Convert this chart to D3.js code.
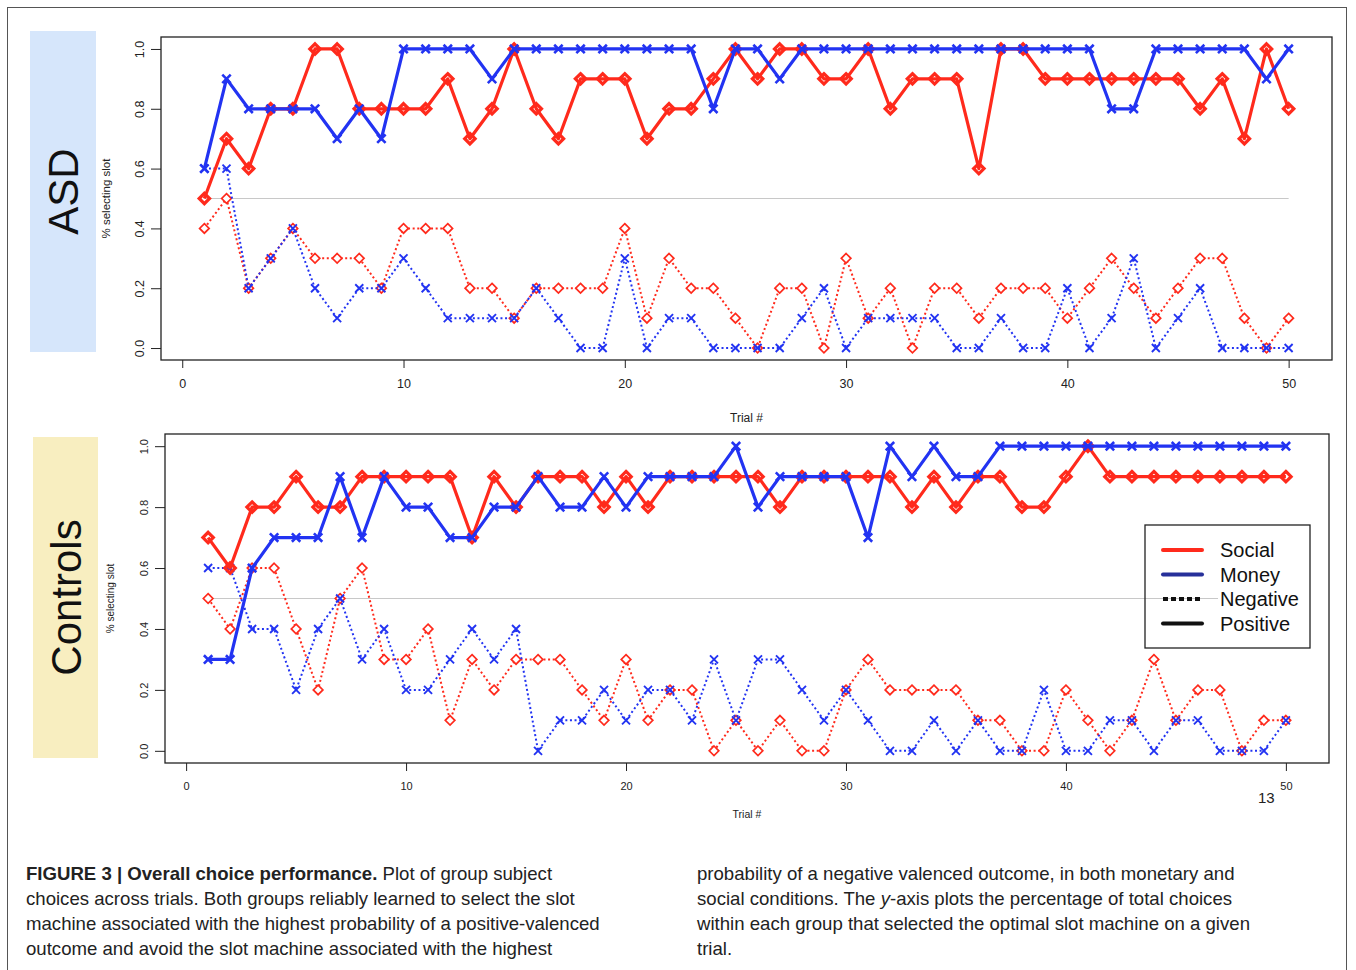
<!DOCTYPE html>
<html>
<head>
<meta charset="utf-8">
<script src="https://cdn.jsdelivr.net/npm/d3@7"></script>
<style>
body { margin: 0; background: #fff; }
svg { display: block; }
text { font-family: "Liberation Sans", Arial, Helvetica, sans-serif; }
</style>
</head>
<body>
<svg id="chart" width="1356" height="970"></svg>
<script>
// trial numbers
var trials = d3.range(1, 51);

// ASD group
var asdSocialPos = [0.5,0.7,0.6,0.8,0.8,1.0,1.0,0.8,0.8,0.8, 0.8,0.9,0.7,0.8,1.0,0.8,0.7,0.9,0.9,0.9,
                    0.7,0.8,0.8,0.9,1.0,0.9,1.0,1.0,0.9,0.9, 1.0,0.8,0.9,0.9,0.9,0.6,1.0,1.0,0.9,0.9,
                    0.9,0.9,0.9,0.9,0.9,0.8,0.9,0.7,1.0,0.8];
var asdMoneyPos  = [0.6,0.9,0.8,0.8,0.8,0.8,0.7,0.8,0.7,1.0, 1.0,1.0,1.0,0.9,1.0,1.0,1.0,1.0,1.0,1.0,
                    1.0,1.0,1.0,0.8,1.0,1.0,0.9,1.0,1.0,1.0, 1.0,1.0,1.0,1.0,1.0,1.0,1.0,1.0,1.0,1.0,
                    1.0,0.8,0.8,1.0,1.0,1.0,1.0,1.0,0.9,1.0];
var asdSocialNeg = [0.4,0.5,0.2,0.3,0.4,0.3,0.3,0.3,0.2,0.4, 0.4,0.4,0.2,0.2,0.1,0.2,0.2,0.2,0.2,0.4,
                    0.1,0.3,0.2,0.2,0.1,0.0,0.2,0.2,0.0,0.3, 0.1,0.2,0.0,0.2,0.2,0.1,0.2,0.2,0.2,0.1,
                    0.2,0.3,0.2,0.1,0.2,0.3,0.3,0.1,0.0,0.1];
var asdMoneyNeg  = [0.6,0.6,0.2,0.3,0.4,0.2,0.1,0.2,0.2,0.3, 0.2,0.1,0.1,0.1,0.1,0.2,0.1,0.0,0.0,0.3,
                    0.0,0.1,0.1,0.0,0.0,0.0,0.0,0.1,0.2,0.0, 0.1,0.1,0.1,0.1,0.0,0.0,0.1,0.0,0.0,0.2,
                    0.0,0.1,0.3,0.0,0.1,0.2,0.0,0.0,0.0,0.0];

// Control group
var ctlSocialPos = [0.7,0.6,0.8,0.8,0.9,0.8,0.8,0.9,0.9,0.9, 0.9,0.9,0.7,0.9,0.8,0.9,0.9,0.9,0.8,0.9,
                    0.8,0.9,0.9,0.9,0.9,0.9,0.8,0.9,0.9,0.9, 0.9,0.9,0.8,0.9,0.8,0.9,0.9,0.8,0.8,0.9,
                    1.0,0.9,0.9,0.9,0.9,0.9,0.9,0.9,0.9,0.9];
var ctlMoneyPos  = [0.3,0.3,0.6,0.7,0.7,0.7,0.9,0.7,0.9,0.8, 0.8,0.7,0.7,0.8,0.8,0.9,0.8,0.8,0.9,0.8,
                    0.9,0.9,0.9,0.9,1.0,0.8,0.9,0.9,0.9,0.9, 0.7,1.0,0.9,1.0,0.9,0.9,1.0,1.0,1.0,1.0,
                    1.0,1.0,1.0,1.0,1.0,1.0,1.0,1.0,1.0,1.0];
var ctlSocialNeg = [0.5,0.4,0.6,0.6,0.4,0.2,0.5,0.6,0.3,0.3, 0.4,0.1,0.3,0.2,0.3,0.3,0.3,0.2,0.1,0.3,
                    0.1,0.2,0.2,0.0,0.1,0.0,0.1,0.0,0.0,0.2, 0.3,0.2,0.2,0.2,0.2,0.1,0.1,0.0,0.0,0.2,
                    0.1,0.0,0.1,0.3,0.1,0.2,0.2,0.0,0.1,0.1];
var ctlMoneyNeg  = [0.6,0.6,0.4,0.4,0.2,0.4,0.5,0.3,0.4,0.2, 0.2,0.3,0.4,0.3,0.4,0.0,0.1,0.1,0.2,0.1,
                    0.2,0.2,0.1,0.3,0.1,0.3,0.3,0.2,0.1,0.2, 0.1,0.0,0.0,0.1,0.0,0.1,0.0,0.0,0.2,0.0,
                    0.0,0.1,0.1,0.0,0.1,0.1,0.0,0.0,0.0,0.1];

var xTicks = [0, 10, 20, 30, 40, 50];
var yTicks = [0, 0.2, 0.4, 0.6, 0.8, 1.0];
var chanceLevel = 0.5;

var legendLabels = ['Social', 'Money', 'Negative', 'Positive'];

var captionLeft = [
    'choices across trials. Both groups reliably learned to select the slot',
    'machine associated with the highest probability of a positive-valenced',
    'outcome and avoid the slot machine associated with the highest'
];
var captionRight = [
    'probability of a negative valenced outcome, in both monetary and',
    'social conditions. The |y|-axis plots the percentage of total choices',
    'within each group that selected the optimal slot machine on a given',
    'trial.'
];

var RED = '#ff2a1c';
var BLUE = '#2233f2';

var svg = d3.select('#chart');

// figure frame
svg.append('rect')
    .attr('x', 7.5).attr('y', 7.5)
    .attr('width', 1339).attr('height', 990)
    .attr('fill', 'none').attr('stroke', '#555').attr('stroke-width', 1);

var panels = [
    {
        label: 'ASD', band: '#d6e6fb', bandX: 30, bandY: 31, bandW: 66, bandH: 321, labelSize: 42,
        left: 161, right: 1332, top: 37, bottom: 360,
        tickFont: 12.5, titleY: 422, ticklabY: 388,
        series: [asdSocialNeg, asdMoneyNeg, asdSocialPos, asdMoneyPos]
    },
    {
        label: 'Controls', band: '#f8eec0', bandX: 33, bandY: 437, bandW: 65, bandH: 321, labelSize: 42,
        left: 165, right: 1329, top: 434, bottom: 763,
        tickFont: 11, titleY: 818, ticklabY: 790,
        series: [ctlSocialNeg, ctlMoneyNeg, ctlSocialPos, ctlMoneyPos]
    }
];

var seriesStyle = [
    { color: RED,  shape: 'diamond', dash: '2,2.6', width: 2,   markerWidth: 1.7, r: 4.8, fill: '#fff' },
    { color: BLUE, shape: 'cross',   dash: '2,2.6', width: 2,   markerWidth: 1.9, r: 4,   fill: 'none' },
    { color: RED,  shape: 'diamond', dash: null,    width: 3.2, markerWidth: 3.2, r: 5.2, fill: 'none' },
    { color: BLUE, shape: 'cross',   dash: null,    width: 3.2, markerWidth: 2.6, r: 4.2, fill: 'none' }
];

panels.forEach(function(p) {
    var g = svg.append('g');

    // side label band
    g.append('rect')
        .attr('x', p.bandX).attr('y', p.bandY)
        .attr('width', p.bandW).attr('height', p.bandH)
        .attr('fill', p.band);
    g.append('text')
        .attr('transform', 'translate(' + (p.bandX + p.bandW / 2 + 15) + ',' + (p.bandY + p.bandH / 2) + ') rotate(-90)')
        .attr('text-anchor', 'middle')
        .attr('font-size', p.labelSize)
        .attr('fill', '#111')
        .text(p.label);

    // R style: 4% padding on both axes
    var x = d3.scaleLinear().domain([1 - 0.04 * 49, 50 + 0.04 * 49]).range([p.left, p.right]);
    var y = d3.scaleLinear().domain([-0.04, 1.04]).range([p.bottom, p.top]);

    // chance line
    g.append('line')
        .attr('x1', x(1)).attr('x2', x(50))
        .attr('y1', y(chanceLevel)).attr('y2', y(chanceLevel))
        .attr('stroke', '#c8c8c8').attr('stroke-width', 1.2);

    // axes
    var xAxis = g.append('g')
        .attr('transform', 'translate(0,' + p.bottom + ')')
        .call(d3.axisBottom(x).tickValues(xTicks).tickSize(8).tickPadding(0).tickFormat(d3.format('d')));
    xAxis.select('.domain').remove();
    xAxis.selectAll('line').attr('stroke', '#222');
    xAxis.selectAll('text')
        .attr('font-size', p.tickFont)
        .attr('fill', '#222')
        .attr('y', p.ticklabY - p.bottom)
        .attr('dy', 0);

    var yAxis = g.append('g')
        .attr('transform', 'translate(' + p.left + ',0)')
        .call(d3.axisLeft(y).tickValues(yTicks).tickSize(10).tickFormat(d3.format('.1f')));
    yAxis.select('.domain').remove();
    yAxis.selectAll('line').attr('stroke', '#222');
    yAxis.selectAll('text')
        .attr('font-size', p.tickFont)
        .attr('fill', '#222')
        .attr('text-anchor', 'middle')
        .attr('x', 0).attr('dy', 0)
        .attr('transform', 'translate(-20,0) rotate(-90)')
        .attr('dominant-baseline', 'middle');

    g.append('text')
        .attr('x', (p.left + p.right) / 2)
        .attr('y', p.titleY)
        .attr('text-anchor', 'middle')
        .attr('font-size', p.tickFont - 0.5)
        .attr('fill', '#222')
        .text('Trial #');

    g.append('text')
        .attr('transform', 'translate(' + (p.left - 51) + ',' + y(0.5) + ') rotate(-90)')
        .attr('text-anchor', 'middle')
        .attr('font-size', p.tickFont - 1)
        .attr('fill', '#222')
        .text('% selecting slot');

    // series
    var line = d3.line()
        .x(function(d, i) { return x(trials[i]); })
        .y(function(d) { return y(d); });

    p.series.forEach(function(values, si) {
        var st = seriesStyle[si];
        g.append('path')
            .datum(values)
            .attr('d', line)
            .attr('fill', 'none')
            .attr('stroke', st.color)
            .attr('stroke-width', st.width)
            .attr('stroke-dasharray', st.dash)
            .attr('stroke-linejoin', 'round');

        var r = st.r;
        g.append('g').selectAll('path')
            .data(values)
            .enter().append('path')
            .attr('transform', function(d, i) { return 'translate(' + x(trials[i]) + ',' + y(d) + ')'; })
            .attr('d', st.shape === 'diamond'
                ? 'M0,' + (-r) + 'L' + r + ',0L0,' + r + 'L' + (-r) + ',0Z'
                : 'M' + (-r) + ',' + (-r) + 'L' + r + ',' + r + 'M' + (-r) + ',' + r + 'L' + r + ',' + (-r))
            .attr('fill', st.fill)
            .attr('stroke', st.color)
            .attr('stroke-width', st.markerWidth);
    });

    // plot box
    g.append('rect')
        .attr('x', p.left).attr('y', p.top)
        .attr('width', p.right - p.left).attr('height', p.bottom - p.top)
        .attr('fill', 'none').attr('stroke', '#222').attr('stroke-width', 1.3);
});

// legend
var legend = svg.append('g').attr('transform', 'translate(1145,525)');
legend.append('rect')
    .attr('x', 0).attr('y', 0).attr('width', 165).attr('height', 123)
    .attr('fill', 'none').attr('stroke', '#222').attr('stroke-width', 1.3);
var legendStyle = [
    { color: '#ff2a1c', dash: null },
    { color: '#27309a', dash: null },
    { color: '#111', dash: '5,3' },
    { color: '#111', dash: null }
];
legendLabels.forEach(function(lbl, i) {
    var ly = 25 + i * 24.5;
    legend.append('line')
        .attr('x1', 18).attr('x2', 57).attr('y1', ly).attr('y2', ly)
        .attr('stroke', legendStyle[i].color)
        .attr('stroke-width', 4)
        .attr('stroke-linecap', i === 2 ? 'butt' : 'round')
        .attr('stroke-dasharray', legendStyle[i].dash);
    legend.append('rect')
        .attr('x', 73).attr('y', ly - 11).attr('width', 88).attr('height', 22)
        .attr('fill', '#fff');
    legend.append('text')
        .attr('x', 75).attr('y', ly + 7)
        .attr('font-size', 20)
        .attr('fill', '#111')
        .text(lbl);
});

// page number
svg.append('text')
    .attr('x', 1258).attr('y', 803)
    .attr('font-size', 15)
    .attr('fill', '#222')
    .text('13');

// caption
var cap = svg.append('g').attr('font-size', 18.6).attr('fill', '#222');
var first = cap.append('text').attr('x', 26).attr('y', 880);
first.append('tspan').attr('font-weight', 'bold').text('FIGURE 3 | Overall choice performance.');
first.append('tspan').text(' Plot of group subject');
captionLeft.forEach(function(t, i) {
    cap.append('text').attr('x', 26).attr('y', 905 + i * 25).text(t);
});
captionRight.forEach(function(t, i) {
    var el = cap.append('text').attr('x', 697).attr('y', 880 + i * 25);
    t.split('|').forEach(function(part, k) {
        el.append('tspan').attr('font-style', k === 1 ? 'italic' : null).text(part);
    });
});
</script>
</body>
</html>
